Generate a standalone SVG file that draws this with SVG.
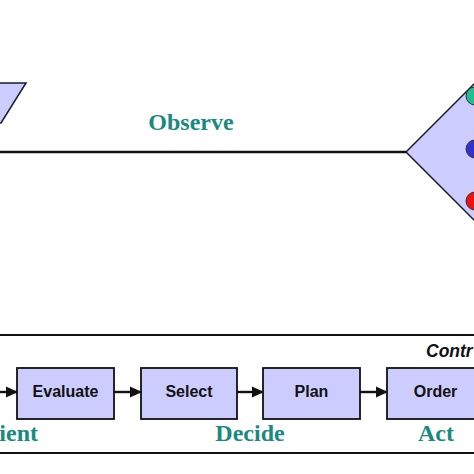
<svg xmlns="http://www.w3.org/2000/svg" width="474" height="474" viewBox="0 0 474 474">
<style>
.shape{fill:#ccccff;stroke:#1a1a2e;stroke-width:1.5}
.box{fill:#ccccff;stroke:#111;stroke-width:1.8}
.lbl{font-family:"Liberation Sans",Arial,sans-serif;font-weight:bold;font-size:16px;fill:#111;text-anchor:middle}
.phase{font-family:"Liberation Serif","Times New Roman",serif;font-weight:bold;font-size:24px;fill:#1a8a80;text-anchor:middle}
.conn{stroke:#111;stroke-width:2.4;fill:none}
</style>
<defs>
<marker id="ah" markerWidth="12" markerHeight="12" refX="11" refY="6" orient="auto" markerUnits="userSpaceOnUse">
<path d="M0,0.5 L12,6 L0,11.5 Z" fill="#111"/>
</marker>
</defs>
<rect width="474" height="474" fill="#fff"/>
<g id="orient-shape"><polygon class="shape" points="-30,83 26,83 1,123 -30,123"/></g>
<g id="decide-act-shape">
<polygon class="shape" points="406,152 480,78 480,226"/>
<circle cx="475" cy="96" r="9" fill="#1fbf8f" stroke="#333" stroke-width="1"/>
<circle cx="475" cy="149" r="9" fill="#3333cc" stroke="#333" stroke-width="1"/>
<circle cx="475" cy="201" r="9" fill="#ee1111" stroke="#333" stroke-width="1"/>
</g>
<g id="observe"><text class="phase" x="191" y="130">Observe</text></g>
<g id="control-frame">
<rect x="-5" y="335" width="490" height="118" fill="none" stroke="#111" stroke-width="2"/>
<text x="426" y="357" font-family="Liberation Sans,Arial,sans-serif" font-weight="bold" font-style="italic" font-size="17.5" fill="#111">Contr</text>
</g>
<g id="connectors">
<line class="conn" x1="0" y1="152" x2="406" y2="152"/>
<line class="conn" x1="0" y1="392" x2="17" y2="392" marker-end="url(#ah)"/>
<line class="conn" x1="114" y1="392" x2="141" y2="392" marker-end="url(#ah)"/>
<line class="conn" x1="237" y1="392" x2="263" y2="392" marker-end="url(#ah)"/>
<line class="conn" x1="360" y1="392" x2="387" y2="392" marker-end="url(#ah)"/>
</g>
<g id="evaluate"><rect class="box" x="17" y="368" width="97" height="51"/><text class="lbl" x="65.5" y="397">Evaluate</text></g>
<g id="select"><rect class="box" x="141" y="368" width="96" height="51"/><text class="lbl" x="189" y="397">Select</text></g>
<g id="plan"><rect class="box" x="263" y="368" width="97" height="51"/><text class="lbl" x="311.5" y="397">Plan</text></g>
<g id="order"><rect class="box" x="387" y="368" width="97" height="51"/><text class="lbl" x="435.5" y="397">Order</text></g>
<g id="phase-labels">
<text class="phase" x="38" y="441" style="text-anchor:end">ient</text>
<text class="phase" x="250" y="441">Decide</text>
<text class="phase" x="436" y="441">Act</text>
</g>
</svg>
